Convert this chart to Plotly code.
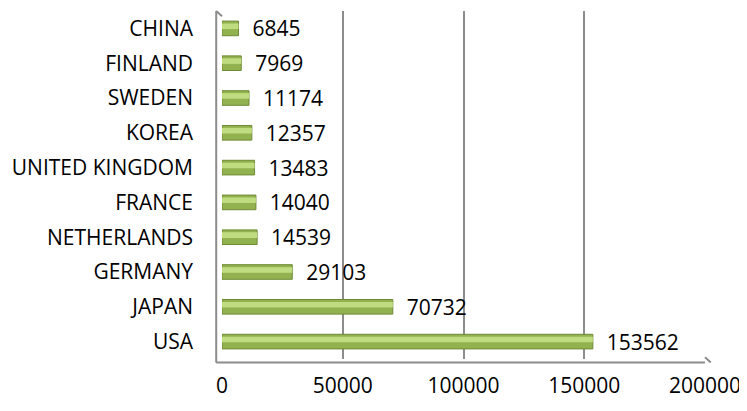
import plotly.graph_objects as go

# data (bottom to top)
countries = ["USA", "JAPAN", "GERMANY", "NETHERLANDS", "FRANCE",
             "UNITED KINGDOM", "KOREA", "SWEDEN", "FINLAND", "CHINA"]
values = [153562, 70732, 29103, 14539, 14040, 13483, 12357, 11174, 7969, 6845]
x_ticks = [0, 50000, 100000, 150000, 200000]

fig = go.Figure()

# base bar (darker) + narrower lighter bar in upper half to fake the cylinder shading
fig.add_trace(go.Bar(
    y=countries, x=values, orientation="h", width=0.42,
    marker=dict(color="#92b24f", line=dict(color="#6f8a35", width=1)),
    text=["  " + str(v) for v in values], textposition="outside",
    constraintext="none",
    textfont=dict(size=21, color="black", family="Open Sans"),
    cliponaxis=False, hoverinfo="skip",
))
fig.add_trace(go.Bar(
    y=countries, x=values, orientation="h", width=0.16, offset=-0.02,
    marker=dict(color="#c0dc80", line=dict(width=0)),
    hoverinfo="skip",
))

# 3D-ish walls of the Excel chart
wall = "#8c8c8c"
fig.add_shape(type="line", xref="paper", yref="paper", x0=-0.012, y0=-0.01, x1=-0.012, y1=1.0,
              line=dict(color=wall, width=2))
fig.add_shape(type="line", xref="paper", yref="paper", x0=-0.012, y0=1.0, x1=0.0, y1=0.985,
              line=dict(color=wall, width=2))
fig.add_shape(type="line", xref="paper", yref="paper", x0=-0.012, y0=-0.01, x1=1.0, y1=-0.01,
              line=dict(color=wall, width=2))
fig.add_shape(type="line", xref="paper", yref="paper", x0=1.0, y0=0.005, x1=1.012, y1=-0.01,
              line=dict(color=wall, width=2))

fig.update_layout(
    width=739, height=403,
    margin=dict(l=214, r=42, t=3, b=52),
    paper_bgcolor="white", plot_bgcolor="white",
    barmode="overlay", showlegend=False,
    font=dict(family="Open Sans", size=21, color="black"),
    xaxis=dict(range=[0, 200000], tickvals=x_ticks, ticktext=[str(t) for t in x_ticks],
               showgrid=True, gridcolor=wall, gridwidth=2, zeroline=False,
               ticks="", tickfont=dict(size=21), ticklabelstandoff=12),
    yaxis=dict(categoryorder="array", categoryarray=countries, showgrid=False,
               ticks="", ticklabelstandoff=28, tickfont=dict(size=21)),
)

fig.write_html("out.html")
